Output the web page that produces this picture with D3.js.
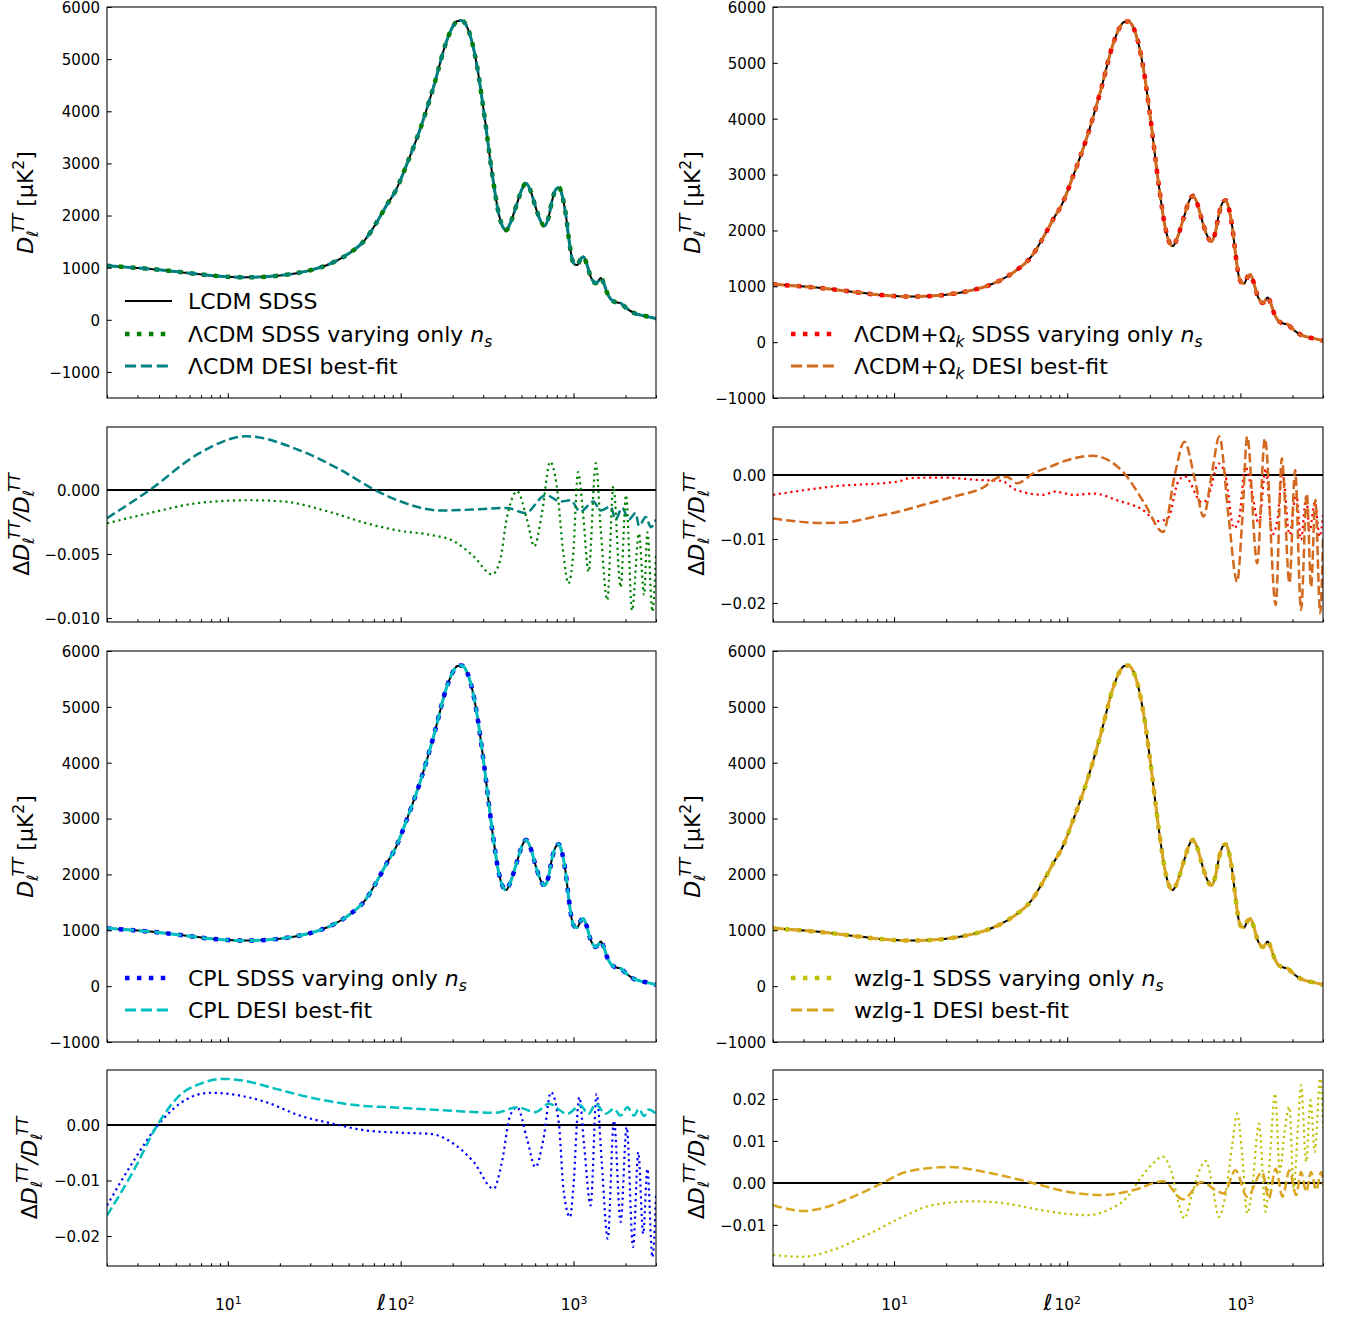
<!DOCTYPE html>
<html>
<head>
<meta charset="utf-8">
<script src="https://cdn.jsdelivr.net/npm/d3@7"></script>
<style>
  body { margin: 0; background: #fff; }
  text { font-family: "DejaVu Sans", sans-serif; white-space: pre; }
</style>
</head>
<body>
<div id="chart"></div>
<script>
// ---- spectrum (same baseline in all four upper panels) ----
const ellTT = [2, 3, 4, 5, 6, 8, 10, 12, 15, 20, 25, 30, 40, 50, 62, 76, 83, 93, 109, 130, 155, 185, 200, 213, 225, 242, 260, 277, 302, 338, 369, 390, 408, 430, 472, 505, 531, 565, 602, 640, 679, 715, 753, 790, 823, 860, 900, 940, 984, 1020, 1051, 1100, 1139, 1190, 1256, 1300, 1343, 1390, 1436, 1500, 1568, 1640, 1713, 1790, 1873, 1950, 2050, 2237, 2450, 2675, 3000];
const dlTT = [1035, 995, 960, 925, 895, 850, 825, 815, 820, 850, 895, 950, 1090, 1270, 1530, 1980, 2200, 2460, 3000, 3670, 4470, 5360, 5620, 5730, 5740, 5620, 5300, 4850, 4020, 2810, 2040, 1780, 1720, 1850, 2240, 2520, 2620, 2470, 2170, 1920, 1800, 1950, 2300, 2500, 2540, 2380, 2040, 1550, 1150, 1060, 1050, 1170, 1210, 1080, 830, 740, 700, 740, 800, 690, 510, 400, 350, 330, 320, 270, 210, 130, 90, 63, 25];

// ---- relative differences ----
const ellLcdmSdss = [2, 3.53, 6.9, 13.4, 20.9, 40.8, 63.5, 100, 148, 203, 265, 338, 376, 410, 472, 538, 593, 657, 733, 800, 874, 934, 996, 1063, 1135, 1222, 1346, 1437, 1568, 1700, 1873, 2013, 2180, 2390, 2560, 2675, 2860, 3000];
const resLcdmSdss = [-0.0026, -0.0018, -0.001, -0.0008, -0.0009, -0.0018, -0.0026, -0.0032, -0.0035, -0.004, -0.0052, -0.0066, -0.0055, -0.0023, -0.0001, -0.0023, -0.0044, -0.0018, 0.0022, 0.0003, -0.005, -0.0073, -0.005, 0.0014, -0.0018, -0.0064, 0.0021, -0.0031, -0.0086, 0.0003, -0.0076, -0.0004, -0.0094, -0.0034, -0.0082, -0.0033, -0.0095, -0.005];
const ellLcdmDesi = [2, 3.53, 6.9, 12.8, 26, 44.5, 71, 100, 169, 289, 410, 527, 689, 842, 960, 1095, 1303, 1436, 1640, 1750, 1910, 2090, 2290, 2390, 2620, 2800, 3000];
const resLcdmDesi = [-0.0022, 0, 0.0029, 0.0042, 0.0031, 0.0016, 0, -0.0009, -0.0016, -0.0015, -0.0014, -0.0018, -0.0004, -0.0009, -0.0008, -0.0017, -0.0009, -0.0016, -0.0013, -0.0023, -0.0014, -0.0023, -0.0018, -0.0028, -0.0021, -0.0029, -0.0023];

const ellOkSdss = [2, 4.41, 10.7, 12.2, 18.9, 32, 41.5, 50.3, 73.5, 84, 110, 143, 196, 268, 335, 383, 438, 478, 600, 640, 750, 820, 917, 980, 1070, 1170, 1280, 1400, 1530, 1640, 1750, 1920, 2100, 2240, 2400, 2510, 2690, 2870, 3000];
const resOkSdss = [-0.0031, -0.0018, -0.001, -0.0005, -0.0004, -0.0008, -0.0009, -0.0023, -0.0031, -0.0026, -0.0031, -0.0029, -0.004, -0.0053, -0.0072, -0.0067, -0.001, -0.0002, -0.0043, -0.0039, 0.0018, 0, -0.0083, -0.007, 0.0013, -0.0029, -0.0077, 0.001, -0.0093, -0.0068, 0.0005, -0.0093, -0.0029, -0.0101, -0.0034, -0.0088, -0.0042, -0.0096, -0.0063];
const ellOkDesi = [2, 4, 5.3, 7.5, 10.7, 14.6, 21.9, 32, 41.5, 45, 51.4, 64, 80, 97, 140, 213, 279, 358, 420, 475, 547, 612, 685, 756, 858, 958, 1025, 1095, 1250, 1385, 1600, 1735, 1920, 2070, 2240, 2420, 2560, 2710, 2890, 3000];
const resOkDesi = [-0.0068, -0.0075, -0.0074, -0.0066, -0.0057, -0.0047, -0.0034, -0.0021, -0.0003, -0.0003, -0.0013, 0.0003, 0.0013, 0.0022, 0.003, 0.0003, -0.0044, -0.0089, 0.0003, 0.0052, -0.0008, -0.0065, 0.0003, 0.006, -0.007, -0.0167, -0.007, 0.006, -0.0138, 0.0057, -0.0203, 0.0026, -0.0169, 0.0008, -0.0211, -0.0029, -0.0175, -0.0039, -0.0216, -0.0099];

const ellCplSdss = [2, 2.82, 3.95, 5.25, 7.9, 10.7, 16.7, 26, 40.8, 63.5, 100, 148, 203, 265, 345, 385, 430, 472, 538, 602, 670, 740, 823, 874, 955, 996, 1080, 1152, 1256, 1360, 1456, 1577, 1713, 1873, 2030, 2210, 2370, 2530, 2675, 2860, 3000];
const resCplSdss = [-0.0145, -0.0067, 0, 0.0038, 0.0058, 0.0055, 0.0041, 0.0017, 0.0002, -0.001, -0.0014, -0.0016, -0.0034, -0.0067, -0.0115, -0.0067, 0.0017, 0.0032, -0.0025, -0.0076, -0.0025, 0.0059, 0.0002, -0.0115, -0.0166, -0.0115, 0.005, -0.0037, -0.0145, 0.0056, -0.0067, -0.0205, 0.0008, -0.0175, -0.0004, -0.022, -0.0049, -0.0196, -0.0079, -0.0238, -0.0127];
const ellCplDesi = [2, 2.82, 3.95, 5.25, 6.9, 9.4, 12.2, 19, 32.6, 58, 100, 185, 353, 472, 602, 720, 920, 1095, 1222, 1346, 1530, 1713, 1873, 2050, 2237, 2390, 2560, 2730, 3000];
const resCplDesi = [-0.0163, -0.0085, 0.0002, 0.0053, 0.0074, 0.0083, 0.008, 0.0065, 0.0047, 0.0035, 0.0031, 0.0026, 0.0022, 0.0032, 0.0023, 0.0038, 0.002, 0.0035, 0.002, 0.0038, 0.002, 0.0029, 0.0017, 0.0032, 0.0017, 0.0029, 0.0016, 0.0028, 0.002];

const ellWzSdss = [2, 2.95, 4.41, 6.9, 10.7, 16.7, 28.4, 44, 71, 96, 131, 171, 223, 268, 320, 353, 400, 438, 475, 524, 586, 632, 685, 750, 820, 897, 958, 1025, 1095, 1170, 1280, 1400, 1497, 1585, 1690, 1790, 1920, 2030, 2150, 2240, 2400, 2540, 2690, 2890, 3000];
const resWzSdss = [-0.0172, -0.0176, -0.016, -0.0125, -0.0085, -0.0053, -0.0044, -0.0049, -0.0065, -0.0073, -0.0077, -0.0065, -0.0033, 0.0014, 0.005, 0.0063, 0.0026, -0.0045, -0.0085, -0.0029, 0.0034, 0.0052, 0.0002, -0.0081, -0.0029, 0.009, 0.0165, 0.0066, -0.0073, -0.0013, 0.0141, -0.0069, 0.009, 0.0213, 0.0026, 0.0114, 0.0181, -0.0013, 0.013, 0.0233, 0.005, 0.0197, 0.0074, 0.0249, 0.013];
const ellWzDesi = [2, 3.02, 3.8, 5.5, 8.4, 11.7, 20.7, 33.3, 61.6, 100, 156, 243, 358, 466, 600, 718, 803, 937, 1095, 1336, 1460, 1600, 1750, 1920, 2100, 2240, 2400, 2560, 2740, 2930, 3000];
const resWzDesi = [-0.0053, -0.0067, -0.0061, -0.0037, -0.0002, 0.0026, 0.0038, 0.0026, 0.0001, -0.0021, -0.0029, -0.0017, 0.0004, -0.0039, 0.0002, -0.0017, -0.0025, 0.003, -0.0033, 0.0026, -0.0037, 0.0034, -0.0033, 0.003, -0.0029, 0.0026, -0.0021, 0.0026, -0.0017, 0.0026, -0.0006];

// ---- tick values ----
const ticksDl = [-1000, 0, 1000, 2000, 3000, 4000, 5000, 6000];
const ticksLcdm = [-0.01, -0.005, 0];
const ticksOk = [-0.02, -0.01, 0];
const ticksCpl = [-0.02, -0.01, 0];
const ticksWz = [-0.01, 0, 0.01, 0.02];
const ticksEllMajor = [10, 100, 1000];

const W = 1346, H = 1317;
const colX = [[107, 656], [773, 1323]];
const rowY = [[7, 398], [427, 622], [651, 1042], [1070, 1266]];

const svg = d3.select("#chart").append("svg").attr("width", W).attr("height", H);

// text with italic / sub / superscript pieces
function richText(sel, parts, size) {
  const t = sel.append("text").attr("font-size", size);
  let cur = 0;
  parts.forEach(p => {
    const off = p.s === "sub" ? 0.24 * size : p.s === "sup" ? -0.42 * size : 0;
    const ts = t.append("tspan").text(p.t)
      .attr("dy", off - cur)
      .attr("font-size", p.s ? size * 0.7 : size)
      .attr("font-style", p.i ? "italic" : "normal");
    if (p.dx) ts.attr("dx", p.dx);
    cur = off;
  });
  return t;
}

const ns = [{ t: "n", i: 1 }, { t: "s", i: 1, s: "sub" }];
const lblDl = [{ t: "D", i: 1 }, { t: "ℓ", i: 1, s: "sub" }, { t: "TT", i: 1, s: "sup", dx: -2 }, { t: " [μK" }, { t: "2", s: "sup" }, { t: "]" }];
const lblRes = [{ t: "Δ" }, { t: "D", i: 1 }, { t: "ℓ", i: 1, s: "sub" }, { t: "TT", i: 1, s: "sup", dx: -2 },
  { t: "/", i: 1 }, { t: "D", i: 1 }, { t: "ℓ", i: 1, s: "sub" }, { t: "TT", i: 1, s: "sup", dx: -2 }];

const dash = (kind, w) => kind === "dot" ? `${w},${(1.65 * w).toFixed(2)}`
  : kind === "dash" ? `${(3.7 * w).toFixed(2)},${(1.6 * w).toFixed(2)}` : null;

const BIG_DOT = 4.5, BIG_DASH = 3, SMALL_DOT = 2.2, SMALL_DASH = 2.5;
const FS_LEG = 22, FS_LAB = 22, FS_TICK = 15;

const panels = [
  { c: 0, r: 0, ydom: [-1500, 6000], ticks: ticksDl, fmt: d3.format("d"), lab: lblDl, labX: 33,
    series: [[ellTT, dlTT, "black", 2, null], [ellTT, dlTT, "green", BIG_DOT, "dot"], [ellTT, dlTT, "teal", BIG_DASH, "dash"]],
    legend: { ys: [301, 334, 366], items: [
      ["black", 2, null, [{ t: "LCDM SDSS" }]],
      ["green", BIG_DOT, "dot", [{ t: "ΛCDM SDSS varying only " }, ...ns]],
      ["teal", BIG_DASH, "dash", [{ t: "ΛCDM DESI best-fit" }]]] } },
  { c: 1, r: 0, ydom: [-1000, 6000], ticks: ticksDl, fmt: d3.format("d"), lab: lblDl, labX: 700,
    series: [[ellTT, dlTT, "black", 2, null], [ellTT, dlTT, "red", BIG_DOT, "dot"], [ellTT, dlTT, "chocolate", BIG_DASH, "dash"]],
    legend: { ys: [334, 366], items: [
      ["red", BIG_DOT, "dot", [{ t: "ΛCDM+Ω" }, { t: "k", i: 1, s: "sub" }, { t: " SDSS varying only " }, ...ns]],
      ["chocolate", BIG_DASH, "dash", [{ t: "ΛCDM+Ω" }, { t: "k", i: 1, s: "sub" }, { t: " DESI best-fit" }]]] } },
  { c: 0, r: 1, ydom: [-0.01031, 0.00492], ticks: ticksLcdm, fmt: d3.format(".3f"), lab: lblRes, labX: 29, zero: true,
    series: [[ellLcdmDesi, resLcdmDesi, "teal", SMALL_DASH, "dash"], [ellLcdmSdss, resLcdmSdss, "green", SMALL_DOT, "dot"]] },
  { c: 1, r: 1, ydom: [-0.02297, 0.0075], ticks: ticksOk, fmt: d3.format(".2f"), lab: lblRes, labX: 704, zero: true,
    series: [[ellOkSdss, resOkSdss, "red", SMALL_DOT, "dot"], [ellOkDesi, resOkDesi, "chocolate", SMALL_DASH, "dash"]] },
  { c: 0, r: 2, ydom: [-1000, 6000], ticks: ticksDl, fmt: d3.format("d"), lab: lblDl, labX: 33,
    series: [[ellTT, dlTT, "black", 2, null], [ellTT, dlTT, "blue", BIG_DOT, "dot"], [ellTT, dlTT, "#00bfbf", BIG_DASH, "dash"]],
    legend: { ys: [978, 1010], items: [
      ["blue", BIG_DOT, "dot", [{ t: "CPL SDSS varying only " }, ...ns]],
      ["#00bfbf", BIG_DASH, "dash", [{ t: "CPL DESI best-fit" }]]] } },
  { c: 1, r: 2, ydom: [-1000, 6000], ticks: ticksDl, fmt: d3.format("d"), lab: lblDl, labX: 700,
    series: [[ellTT, dlTT, "black", 2, null], [ellTT, dlTT, "#bfbf00", BIG_DOT, "dot"], [ellTT, dlTT, "goldenrod", BIG_DASH, "dash"]],
    legend: { ys: [978, 1010], items: [
      ["#bfbf00", BIG_DOT, "dot", [{ t: "wzlg-1 SDSS varying only " }, ...ns]],
      ["goldenrod", BIG_DASH, "dash", [{ t: "wzlg-1 DESI best-fit" }]]] } },
  { c: 0, r: 3, ydom: [-0.0254, 0.0099], ticks: ticksCpl, fmt: d3.format(".2f"), lab: lblRes, labX: 37, zero: true, xlab: true,
    series: [[ellCplSdss, resCplSdss, "blue", SMALL_DOT, "dot"], [ellCplDesi, resCplDesi, "#00bfbf", SMALL_DASH, "dash"]] },
  { c: 1, r: 3, ydom: [-0.0198, 0.0269], ticks: ticksWz, fmt: d3.format(".2f"), lab: lblRes, labX: 704, zero: true, xlab: true,
    series: [[ellWzSdss, resWzSdss, "#bfbf00", SMALL_DOT, "dot"], [ellWzDesi, resWzDesi, "goldenrod", SMALL_DASH, "dash"]] }
];

panels.forEach((p, idx) => {
  const [x0, x1] = colX[p.c], [y0, y1] = rowY[p.r];
  const x = d3.scaleLog().domain([2, 3000]).range([x0, x1]);
  const y = d3.scaleLinear().domain(p.ydom).range([y1, y0]);
  const g = svg.append("g");

  g.append("clipPath").attr("id", "clip" + idx)
    .append("rect").attr("x", x0).attr("y", y0).attr("width", x1 - x0).attr("height", y1 - y0);

  const plot = g.append("g").attr("clip-path", `url(#clip${idx})`);
  const line = d3.line().x(d => x(d[0])).y(d => y(d[1])).curve(d3.curveMonotoneX);

  if (p.zero) {
    plot.append("line").attr("x1", x0).attr("x2", x1).attr("y1", y(0)).attr("y2", y(0))
      .attr("stroke", "black").attr("stroke-width", 2);
  }
  p.series.forEach(([ell, val, color, lw, kind]) => {
    plot.append("path")
      .datum(ell.map((e, i) => [e, val[i]]))
      .attr("d", line)
      .attr("fill", "none")
      .attr("stroke", color)
      .attr("stroke-width", lw)
      .attr("stroke-dasharray", dash(kind, lw));
  });

  // x ticks (inside)
  const minor = x.ticks().filter(v => !ticksEllMajor.includes(v));
  g.append("g").attr("transform", `translate(0,${y1})`)
    .call(d3.axisBottom(x).tickValues(minor).tickSize(-2.7).tickSizeOuter(0).tickFormat(""))
    .call(a => a.select(".domain").remove());
  const xa = g.append("g").attr("transform", `translate(0,${y1})`)
    .call(d3.axisBottom(x).tickValues(ticksEllMajor).tickSize(-4.7).tickSizeOuter(0).tickFormat(""))
    .call(a => a.select(".domain").remove());
  g.selectAll(".tick line").attr("stroke-width", 1.05);

  if (p.xlab) {
    xa.selectAll(".tick text").remove();
    xa.selectAll(".tick").each(function (d) {
      const tk = d3.select(this).append("g").attr("transform", "translate(0,44)");
      richText(tk, [{ t: "10" }, { t: String(Math.round(Math.log10(d))), s: "sup" }], 15.5)
        .attr("text-anchor", "middle").attr("fill", "black");
    });
    g.append("text").attr("x", (x0 + x1) / 2).attr("y", 1310)
      .attr("text-anchor", "middle").attr("font-size", 22).attr("font-style", "italic").text("ℓ");
  }

  // y ticks (inside)
  const ya = g.append("g").attr("transform", `translate(${x0},0)`)
    .call(d3.axisLeft(y).tickValues(p.ticks).tickSize(-4.7).tickSizeOuter(0).tickPadding(7).tickFormat(p.fmt))
    .call(a => a.select(".domain").remove());
  ya.selectAll(".tick line").attr("stroke-width", 1.05);
  ya.selectAll(".tick text").attr("font-size", FS_TICK).attr("font-family", "DejaVu Sans").attr("dy", "0.36em");

  // frame
  g.append("rect").attr("x", x0).attr("y", y0).attr("width", x1 - x0).attr("height", y1 - y0)
    .attr("fill", "none").attr("stroke", "black").attr("stroke-width", 1.05);

  // y label
  const lg = g.append("g").attr("transform", `translate(${p.labX},${(y0 + y1) / 2}) rotate(-90)`);
  richText(lg, p.lab, FS_LAB).attr("text-anchor", "middle");

  // legend
  if (p.legend) {
    const lx0 = x0 + 18, lx1 = x0 + 65, tx = x0 + 81;
    p.legend.items.forEach(([color, lw, kind, parts], i) => {
      const ly = p.legend.ys[i];
      g.append("line").attr("x1", lx0).attr("x2", lx1).attr("y1", ly).attr("y2", ly)
        .attr("stroke", color).attr("stroke-width", lw).attr("stroke-dasharray", dash(kind, lw));
      richText(g.append("g").attr("transform", `translate(${tx},${ly + 8})`), parts, FS_LEG);
    });
  }
});
</script>
</body>
</html>
